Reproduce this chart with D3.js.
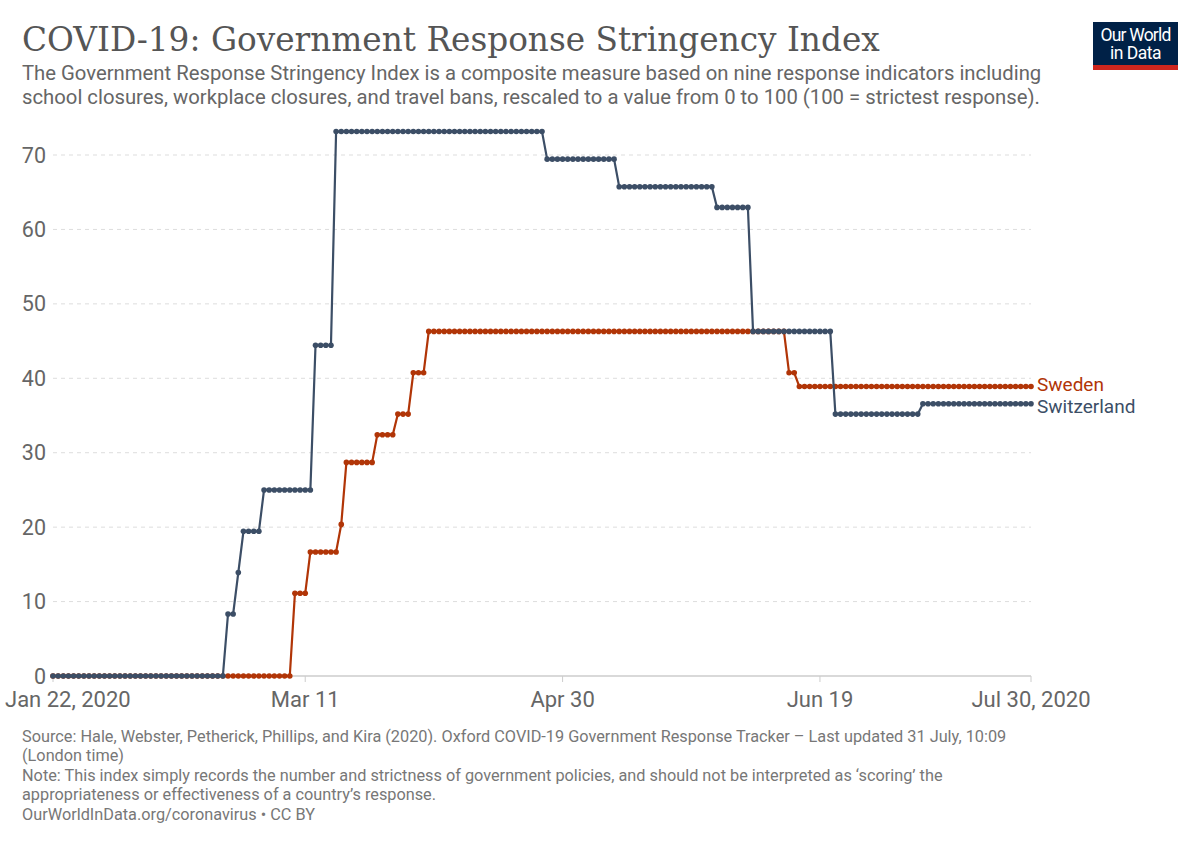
<!DOCTYPE html>
<html>
<head>
<meta charset="utf-8">
<script src="https://cdn.jsdelivr.net/npm/d3@7/dist/d3.min.js"></script>
<style>
body { margin:0; background:#fff; }
text { font-family: Roboto, "Noto Sans", sans-serif; }
</style>
</head>
<body>
<svg id="chart" width="1200" height="847"></svg>
<script>

// one value per day, Jan 22 2020 .. Jul 30 2020 (191 days)
var startDate = new Date(2020, 0, 22)
var endDate = new Date(2020, 6, 30)

var switzerland = [
 0,0,0,0,0,0,0,0,0,0, 0,0,0,0,0,0,0,0,0,0, 0,0,0,0,0,0,0,0,0,0, 0,0,0,0,
 8.33,8.33,13.89,19.44,19.44,19.44,19.44,
 25,25,25,25,25,25,25,25,25,25,
 44.44,44.44,44.44,44.44,
 73.15,73.15,73.15,73.15,73.15,73.15,73.15,73.15,73.15,73.15,
 73.15,73.15,73.15,73.15,73.15,73.15,73.15,73.15,73.15,73.15,
 73.15,73.15,73.15,73.15,73.15,73.15,73.15,73.15,73.15,73.15,
 73.15,73.15,73.15,73.15,73.15,73.15,73.15,73.15,73.15,73.15,73.15,
 69.44,69.44,69.44,69.44,69.44,69.44,69.44,69.44,69.44,69.44,69.44,69.44,69.44,69.44,
 65.74,65.74,65.74,65.74,65.74,65.74,65.74,65.74,65.74,65.74,
 65.74,65.74,65.74,65.74,65.74,65.74,65.74,65.74,65.74,
 62.96,62.96,62.96,62.96,62.96,62.96,62.96,
 46.3,46.3,46.3,46.3,46.3,46.3,46.3,46.3,46.3,46.3,46.3,46.3,46.3,46.3,46.3,46.3,
 35.19,35.19,35.19,35.19,35.19,35.19,35.19,35.19,35.19,35.19,35.19,35.19,35.19,35.19,35.19,35.19,35.19,
 36.57,36.57,36.57,36.57,36.57,36.57,36.57,36.57,36.57,36.57,36.57,
 36.57,36.57,36.57,36.57,36.57,36.57,36.57,36.57,36.57,36.57,36.57
]

var sweden = [
 0,0,0,0,0,0,0,0,0,0, 0,0,0,0,0,0,0,0,0,0, 0,0,0,0,0,0,0,0,0,0,
 0,0,0,0,0,0,0,0,0,0, 0,0,0,0,0,0,0,
 11.11,11.11,11.11,
 16.67,16.67,16.67,16.67,16.67,16.67,
 20.37,
 28.7,28.7,28.7,28.7,28.7,28.7,
 32.41,32.41,32.41,32.41,
 35.19,35.19,35.19,
 40.74,40.74,40.74,
 46.3,46.3,46.3,46.3,46.3,46.3,46.3,46.3,46.3,46.3,
 46.3,46.3,46.3,46.3,46.3,46.3,46.3,46.3,46.3,46.3,
 46.3,46.3,46.3,46.3,46.3,46.3,46.3,46.3,46.3,46.3,
 46.3,46.3,46.3,46.3,46.3,46.3,46.3,46.3,46.3,46.3,
 46.3,46.3,46.3,46.3,46.3,46.3,46.3,46.3,46.3,46.3,
 46.3,46.3,46.3,46.3,46.3,46.3,46.3,46.3,46.3,46.3,
 46.3,46.3,46.3,46.3,46.3,46.3,46.3,46.3,46.3,46.3,
 40.74,40.74,
 38.89,38.89,38.89,38.89,38.89,38.89,38.89,38.89,38.89,38.89,
 38.89,38.89,38.89,38.89,38.89,38.89,38.89,38.89,38.89,38.89,
 38.89,38.89,38.89,38.89,38.89,38.89,38.89,38.89,38.89,38.89,
 38.89,38.89,38.89,38.89,38.89,38.89,38.89,38.89,38.89,38.89,
 38.89,38.89,38.89,38.89,38.89,38.89
]

var yTicks = [0, 10, 20, 30, 40, 50, 60, 70]
var xTickDates = [new Date(2020,0,22), new Date(2020,2,11), new Date(2020,3,30), new Date(2020,5,19), new Date(2020,6,30)]
var xTickLabels = ["Jan 22, 2020", "Mar 11", "Apr 30", "Jun 19", "Jul 30, 2020"]

var title = "COVID-19: Government Response Stringency Index"
var subtitle = ["The Government Response Stringency Index is a composite measure based on nine response indicators including",
  "school closures, workplace closures, and travel bans, rescaled to a value from 0 to 100 (100 = strictest response)."]
var footer = ["Source: Hale, Webster, Petherick, Phillips, and Kira (2020). Oxford COVID-19 Government Response Tracker \u2013 Last updated 31 July, 10:09",
  "(London time)",
  "Note: This index simply records the number and strictness of government policies, and should not be interpreted as \u2018scoring\u2019 the",
  "appropriateness or effectiveness of a country\u2019s response.",
  "OurWorldInData.org/coronavirus \u2022 CC BY"]

var series = [
  {name: "Sweden", values: sweden, color: "#b13507", dy: -2},
  {name: "Switzerland", values: switzerland, color: "#3c4e66", dy: 3}
]

var svg = d3.select("#chart")

var x = d3.scaleTime().domain([startDate, endDate]).range([53, 1031])
var y = d3.scaleLinear().domain([0, 70]).range([676, 155])

function fit(sel, w) {
  var cur = sel.node().getComputedTextLength()
  sel.attr("font-size", parseFloat(sel.attr("font-size")) * w / cur)
}

// header
var t = svg.append("text").attr("x", 22).attr("y", 51).attr("font-size", 36)
  .style("font-family", "'DejaVu Serif', serif").attr("fill", "#555").text(title)
fit(t, 858)

svg.append("g").selectAll("text").data(subtitle).enter().append("text")
  .attr("x", 22).attr("y", function(d,i){ return 80 + i*24 })
  .attr("font-size", 20.3).attr("fill", "#666").text(function(d){ return d })

// logo
var logo = svg.append("g").attr("transform", "translate(1093,22)")
logo.append("rect").attr("width", 85).attr("height", 48).attr("fill", "#002147")
logo.append("rect").attr("y", 43).attr("width", 85).attr("height", 5).attr("fill", "#ce261e")
logo.append("text").attr("x", 42.5).attr("y", 19).attr("text-anchor", "middle")
  .attr("font-size", 17.5).attr("fill", "#fff").style("letter-spacing", "-0.8px").text("Our World")
logo.append("text").attr("x", 42.5).attr("y", 37).attr("text-anchor", "middle")
  .attr("font-size", 17.5).attr("fill", "#fff").style("letter-spacing", "-0.5px").text("in Data")

// grid + y labels
svg.append("g").selectAll("line").data(yTicks.filter(function(d){ return d > 0 })).enter().append("line")
  .attr("x1", 53).attr("x2", 1031).attr("y1", function(d){ return y(d) }).attr("y2", function(d){ return y(d) })
  .attr("stroke", "#ddd").attr("stroke-dasharray", "4,4")

svg.append("g").selectAll("text").data(yTicks).enter().append("text")
  .attr("x", 46).attr("y", function(d){ return y(d) }).attr("dy", "0.35em")
  .attr("text-anchor", "end").attr("font-size", 21.5).attr("fill", "#666").text(function(d){ return d })

// x axis
svg.append("line").attr("x1", 53).attr("x2", 1031).attr("y1", 676).attr("y2", 676)
  .attr("stroke", "#ccc").attr("stroke-width", 1.5)

svg.append("g").selectAll("line").data(xTickDates).enter().append("line")
  .attr("x1", function(d){ return x(d) }).attr("x2", function(d){ return x(d) })
  .attr("y1", 676).attr("y2", 682).attr("stroke", "#ccc")

svg.append("g").selectAll("text").data(xTickDates).enter().append("text")
  .attr("y", 707).attr("text-anchor", "middle").attr("font-size", 22).attr("fill", "#666")
  .text(function(d,i){ return xTickLabels[i] })
  .attr("x", function(d){
    var w = this.getComputedTextLength()
    return Math.max(x(d), w/2 + 5)
  })

// lines
var line = d3.line().x(function(d,i){ return x(d3.timeDay.offset(startDate, i)) }).y(function(d){ return y(d) })

series.forEach(function(s){
  var g = svg.append("g")
  g.append("path").datum(s.values).attr("d", line)
    .attr("fill", "none").attr("stroke", s.color).attr("stroke-width", 2.2)
  g.selectAll("circle").data(s.values).enter().append("circle")
    .attr("cx", function(d,i){ return x(d3.timeDay.offset(startDate, i)) })
    .attr("cy", function(d){ return y(d) }).attr("r", 2.8).attr("fill", s.color)
  g.append("text").attr("x", 1037).attr("y", y(s.values[s.values.length-1]) + s.dy)
    .attr("dy", "0.35em").attr("font-size", 19).attr("fill", s.color).text(s.name)
})

// footer
svg.append("g").selectAll("text").data(footer).enter().append("text")
  .attr("x", 22).attr("y", function(d,i){ return [742, 761, 781, 800, 820][i] })
  .attr("font-size", 16.3).attr("fill", "#777").text(function(d){ return d })

</script>
</body>
</html>
